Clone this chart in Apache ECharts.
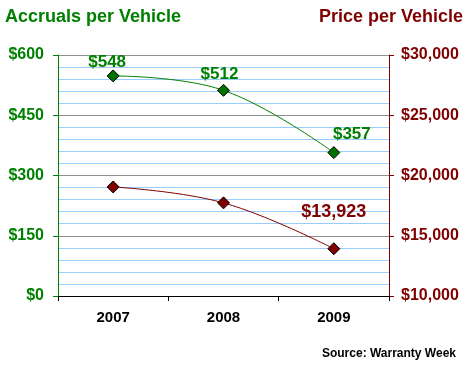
<!DOCTYPE html>
<html>
<head>
<meta charset="utf-8">
<script src="https://cdn.jsdelivr.net/npm/echarts@6/dist/echarts.min.js"></script>
<style>
html,body{margin:0;padding:0;background:#fff;}
#c{width:468px;height:365px;}
</style>
</head>
<body>
<div id="c"></div>
<script>
var years = ['2007', '2008', '2009'];
var accruals = [548, 512, 357];
var prices = [19050, 17730, 13923];
var leftTicks = [0, 600, 150];
var rightTicks = [10000, 30000, 5000];

var GREEN = '#008000';
var RED = '#800000';
var FONT = '"Liberation Sans", Arial, sans-serif';

var chart = echarts.init(document.getElementById('c'));
chart.setOption({
  animation: false,
  backgroundColor: '#fff',
  textStyle: { fontFamily: FONT },
  title: [
    { text: 'Accruals per Vehicle', left: 0, top: 3,
      textStyle: { color: GREEN, fontSize: 18, fontWeight: 'bold', fontFamily: FONT } },
    { text: 'Price per Vehicle', right: 0, top: 3,
      textStyle: { color: RED, fontSize: 18, fontWeight: 'bold', fontFamily: FONT } },
    { text: 'Source: Warranty Week', right: 7, top: 343,
      textStyle: { color: '#000', fontSize: 12, fontWeight: 'bold', fontFamily: FONT } }
  ],
  grid: { left: 58, right: 79, top: 55, bottom: 69, containLabel: false },
  xAxis: {
    type: 'category',
    data: years,
    boundaryGap: true,
    axisLine: { lineStyle: { color: '#000', width: 1 } },
    axisTick: { show: true, alignWithLabel: false, length: 5, lineStyle: { color: '#000' } },
    axisLabel: { color: '#000', fontSize: 15, fontWeight: 'bold', margin: 14, fontFamily: FONT },
    splitLine: { show: false }
  },
  yAxis: [
    {
      type: 'value', position: 'left',
      min: leftTicks[0], max: leftTicks[1], interval: leftTicks[2],
      axisLine: { show: true, lineStyle: { color: GREEN, width: 1 } },
      axisTick: { show: true, inside: false, length: 5, lineStyle: { color: GREEN } },
      axisLabel: { color: GREEN, fontSize: 16, fontWeight: 'bold', margin: 14, fontFamily: FONT,
        formatter: function (v) { return '$' + v; } },
      splitLine: { show: true, lineStyle: { color: '#909090', width: 1 } },
      minorTick: { show: false, splitNumber: 5 },
      minorSplitLine: { show: true, lineStyle: { color: '#99ccff', width: 1 } }
    },
    {
      type: 'value', position: 'right',
      min: rightTicks[0], max: rightTicks[1], interval: rightTicks[2],
      axisLine: { show: true, lineStyle: { color: RED, width: 1 } },
      axisTick: { show: true, inside: false, length: 5, lineStyle: { color: RED } },
      axisLabel: { color: RED, fontSize: 16, fontWeight: 'bold', margin: 12, fontFamily: FONT,
        formatter: function (v) { return '$' + v.toLocaleString('en-US'); } },
      splitLine: { show: false }
    }
  ],
  series: [
    {
      name: 'Accruals', type: 'line', yAxisIndex: 0, smooth: 0.4,
      data: accruals.map(function (v, i) {
        var offs = [[-6, 7], [-4, 5], [18, 3]];
        return { value: v, label: { offset: offs[i] } };
      }),
      symbol: 'diamond', symbolSize: 12,
      itemStyle: { color: '#007000', borderColor: '#000', borderWidth: 1 },
      lineStyle: { color: GREEN, width: 1 },
      label: { show: true, position: 'top', distance: 6, color: GREEN, fontSize: 17, fontWeight: 'bold', fontFamily: FONT,
        formatter: function (p) { return '$' + p.value; } },
      z: 3
    },
    {
      name: 'Price', type: 'line', yAxisIndex: 1, smooth: 0.4,
      data: prices.map(function (v, i) {
        return i === prices.length - 1
          ? { value: v, label: { show: true, offset: [0, -15] } }
          : { value: v };
      }),
      symbol: 'diamond', symbolSize: 12,
      itemStyle: { color: RED, borderColor: '#000', borderWidth: 1 },
      lineStyle: { color: RED, width: 1 },
      label: { show: false, position: 'top', distance: 6, color: RED, fontSize: 18, fontWeight: 'bold', fontFamily: FONT,
        formatter: function (p) { return '$' + p.value.toLocaleString('en-US'); } },
      z: 3
    }
  ]
});
</script>
</body>
</html>
